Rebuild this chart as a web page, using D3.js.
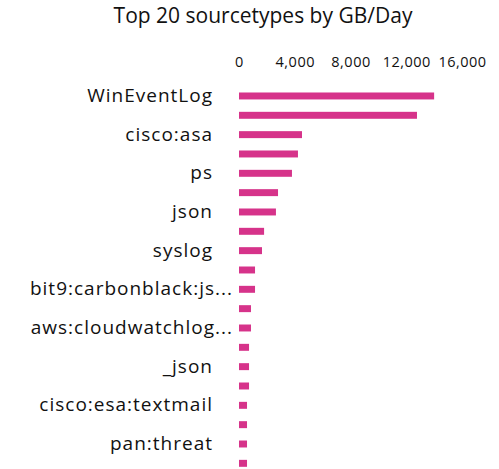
<!DOCTYPE html>
<html>
<head>
<meta charset="utf-8">
<script src="https://cdn.jsdelivr.net/npm/d3@7"></script>
<style>
	body { margin: 0; background: #fff; }
	text { font-family: "Open Sans", sans-serif; fill: #111; }
</style>
</head>
<body>
<svg id="chart"></svg>
<script>
// only every other sourcetype gets a label in the original chart
let labels = [
	'WinEventLog', 'cisco:asa', 'ps', 'json', 'syslog',
	'bit9:carbonblack:js...', 'aws:cloudwatchlog...', '_json',
	'cisco:esa:textmail', 'pan:threat'
];
let gbPerDay = [
	14000, 12770, 4520, 4230, 3800, 2800, 2650, 1800, 1650, 1150,
	1150, 860, 860, 720, 720, 720, 575, 575, 575, 575
];
let xTicks = [0, 4000, 8000, 12000, 16000];

let width = 499;
let height = 469;

let svg = d3.select('#chart')
	.attr('width', width)
	.attr('height', height);

svg.append('text')
	.attr('x', 263)
	.attr('y', 23)
	.attr('text-anchor', 'middle')
	.style('font-size', '21px')
	.text('Top 20 sourcetypes by GB/Day');

let x = d3.scaleLinear()
	.domain([0, 16000])
	.range([239, 462]);

let y = d3.scaleBand()
	.domain(d3.range(gbPerDay.length))
	.range([86.3, 473])
	.paddingInner(0.64)
	.paddingOuter(0.32);

// top axis, labels only
let xAxis = svg.append('g')
	.attr('transform', 'translate(0,67)')
	.call(d3.axisTop(x)
		.tickValues(xTicks)
		.tickFormat(d3.format(','))
		.tickSize(0)
		.tickPadding(0));
xAxis.select('.domain').remove();
xAxis.selectAll('text')
	.style('font-size', '14.5px')
	.style('letter-spacing', '0.5px')
	.attr('fill', '#111');

// category axis: label every second bar
let yAxis = svg.append('g')
	.attr('transform', 'translate(213,0)')
	.call(d3.axisLeft(y)
		.tickValues(d3.range(0, gbPerDay.length, 2))
		.tickFormat(i => labels[i / 2])
		.tickSize(0)
		.tickPadding(0));
yAxis.select('.domain').remove();
yAxis.selectAll('text')
	.style('font-size', '19px')
	.style('letter-spacing', '1px')
	.attr('fill', '#111')
	// truncated labels run closer to the bars
	.attr('dx', function() { return this.textContent.endsWith('...') ? 20 : 0; });

svg.append('g')
	.selectAll('rect')
	.data(gbPerDay)
	.enter()
	.append('rect')
	.attr('x', x(0))
	.attr('y', (d, i) => y(i))
	.attr('width', d => x(d) - x(0))
	.attr('height', y.bandwidth())
	.attr('fill', '#d6338a');
</script>
</body>
</html>
